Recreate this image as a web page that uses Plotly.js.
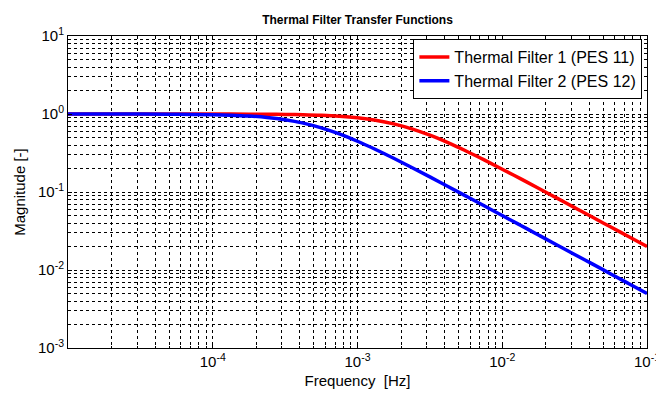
<!DOCTYPE html>
<html>
<head>
<meta charset="utf-8">
<script src="https://cdn.plot.ly/plotly-3.0.1.min.js"></script>
<style>html,body{margin:0;padding:0;background:#fff;}#chart{width:656px;height:394px;}</style>
</head>
<body>
<div id="chart"></div>
<script>
const frequency = [1e-5, 2e-5, 5e-5, 1e-4, 1.334e-4, 1.778e-4, 2.371e-4, 3.162e-4, 4.217e-4, 5.623e-4, 7.499e-4,
  1e-3, 1.334e-3, 1.778e-3, 2.371e-3, 3.162e-3, 4.217e-3, 5.623e-3, 7.499e-3,
  1e-2, 1.334e-2, 1.778e-2, 2.371e-2, 3.162e-2, 4.217e-2, 5.623e-2, 7.499e-2, 1e-1];
const filter1 = [1.0, 1.0, 0.9997, 0.9988, 0.9978, 0.9961, 0.9930, 0.9877, 0.9785, 0.9627, 0.9363,
  0.8944, 0.8321, 0.7474, 0.6447, 0.5345, 0.4285, 0.3351, 0.2577,
  0.1961, 0.1483, 0.1118, 0.0840, 0.0631, 0.0474, 0.0355, 0.0267, 0.0200];
const filter2 = [0.9998, 0.9992, 0.9950, 0.9806, 0.9662, 0.9422, 0.9036, 0.8452, 0.7645, 0.6645, 0.5547,
  0.4472, 0.3510, 0.2707, 0.2063, 0.1562, 0.1177, 0.0886, 0.0665,
  0.0499, 0.0375, 0.0281, 0.0211, 0.0158, 0.0119, 0.0089, 0.00667, 0.0050];
const seriesNames = ['Thermal Filter 1 (PES 11)', 'Thermal Filter 2 (PES 12)'];
const xTickVals = [1e-4, 1e-3, 1e-2, 1e-1];
const xTickText = ['10<sup>-4</sup>', '10<sup>-3</sup>', '10<sup>-2</sup>', '10<sup>-1</sup>'];
const yTickVals = [1e-3, 1e-2, 1e-1, 1e0, 1e1];
const yTickText = ['10<sup>-3</sup>', '10<sup>-2</sup>', '10<sup>-1</sup>', '10<sup>0</sup>', '10<sup>1</sup>'];
const xDecades = [1e-5, 1e-4, 1e-3, 1e-2];
const yDecades = [1e-3, 1e-2, 1e-1, 1e0];
const minorDigits = [2, 3, 4, 5, 6, 7, 8, 9];

const minorVals = decs => decs.flatMap(d => minorDigits.map(m => m * d));
const font = 'Liberation Sans, Arial, sans-serif';
const traces = [
  {x: frequency, y: filter1, name: seriesNames[0], mode: 'lines', line: {color: '#ff0000', width: 3.5, shape: 'spline'}},
  {x: frequency, y: filter2, name: seriesNames[1], mode: 'lines', line: {color: '#0000ff', width: 3.5, shape: 'spline'}}
];
const axisCommon = () => ({
  type: 'log', showline: true, linecolor: '#000', linewidth: 1, mirror: true,
  ticks: 'inside', ticklen: 4, tickcolor: '#000',
  showgrid: true, gridcolor: '#000', gridwidth: 1, griddash: '3px,3px',
  zeroline: false, tickfont: {family: font, size: 15, color: '#000'},
  ticklabeloverflow: 'allow'
});
const layout = {
  width: 656, height: 394,
  margin: {l: 68, r: 9, t: 36, b: 46},
  paper_bgcolor: '#fff', plot_bgcolor: '#fff',
  font: {family: font, color: '#000'},
  title: {text: '<b>Thermal Filter Transfer Functions</b>', font: {family: font, size: 12, color: '#000'},
    x: 0.5, xref: 'paper', xanchor: 'center', y: 1, yref: 'paper', yanchor: 'bottom', pad: {b: 12}},
  xaxis: Object.assign(axisCommon(), {
    range: [-5, -1], tickmode: 'array', tickvals: xTickVals, ticktext: xTickText,
    minor: {tickmode: 'array', tickvals: minorVals(xDecades), showgrid: true, gridcolor: '#000', gridwidth: 1,
      griddash: '3px,3px', ticks: 'inside', ticklen: 2, tickcolor: '#000'},
    title: {text: 'Frequency  [Hz]', font: {family: font, size: 15, color: '#000'}, standoff: 6}
  }),
  yaxis: Object.assign(axisCommon(), {
    range: [-3, 1], tickmode: 'array', tickvals: yTickVals, ticktext: yTickText,
    minor: {tickmode: 'array', tickvals: minorVals(yDecades), showgrid: true, gridcolor: '#000', gridwidth: 1,
      griddash: '3px,3px', ticks: 'inside', ticklen: 2, tickcolor: '#000'},
    title: {text: 'Magnitude [-]', font: {family: font, size: 15, color: '#000'}, standoff: 8}
  }),
  showlegend: true,
  legend: {x: 0.992, xanchor: 'right', y: 0.99, yanchor: 'top', bgcolor: '#fff',
    bordercolor: '#000', borderwidth: 1, font: {family: font, size: 16, color: '#000'},
    tracegroupgap: 0, itemwidth: 30}
};
Plotly.newPlot('chart', traces, layout, {displayModeBar: false, staticPlot: true});
</script>
</body>
</html>
